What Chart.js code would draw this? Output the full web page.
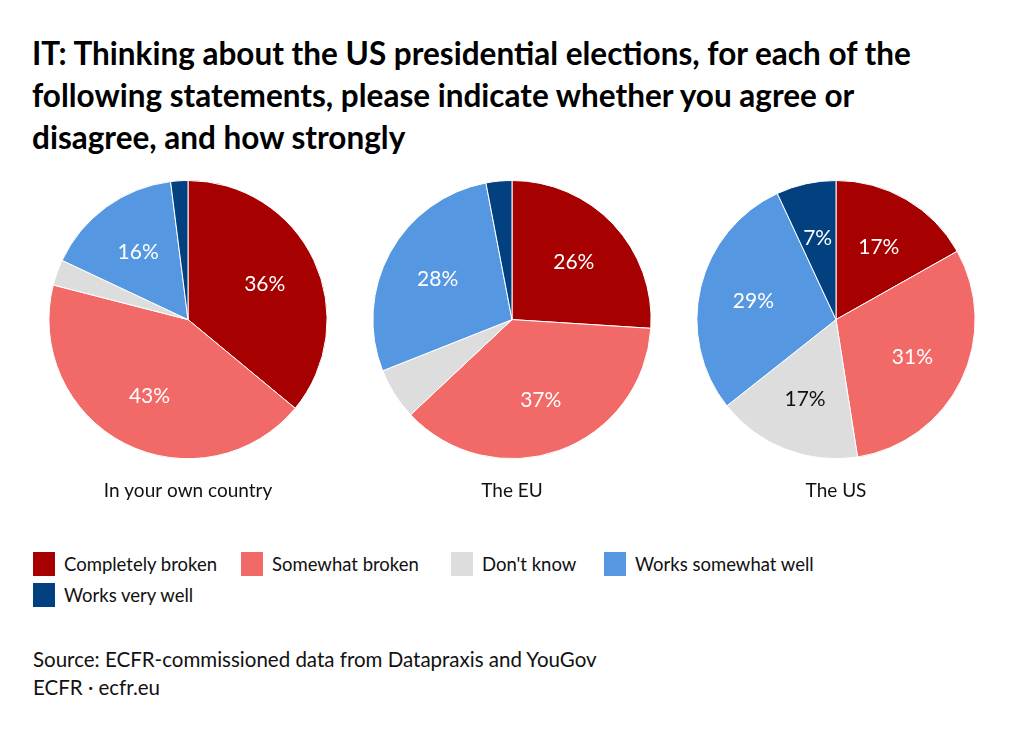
<!DOCTYPE html>
<html>
<head>
<meta charset="utf-8">
<script src="https://cdn.jsdelivr.net/npm/chart.js@4.4.1/dist/chart.umd.min.js"></script>
<style>
  body { margin: 0; background: #fff; font-family: Lato, sans-serif; color: #111; }
  #wrap { position: relative; width: 1024px; height: 731px; overflow: hidden; }
  #title { position: absolute; left: 32px; top: 32px; font-weight: 700; font-size: 31.5px; line-height: 42px; color: #000; }
  .pie { position: absolute; top: 180px; width: 326px; height: 322px; }
  #legend { position: absolute; left: 33px; top: 552px; width: 820px; font-size: 18.5px; }
  .item { position: absolute; display: flex; align-items: center; height: 24px; }
  .sw { width: 22px; height: 24px; margin-right: 9px; }
  #source { position: absolute; left: 33px; top: 645px; font-size: 20.5px; line-height: 28px; }
</style>
</head>
<body>
<div id="wrap">
  <div id="title">IT: Thinking about the US presidential elections, for each of the<br>following statements, please indicate whether you agree or<br>disagree, and how strongly</div>
  <div class="pie" style="left:25px"><canvas id="pie0"></canvas></div>
  <div class="pie" style="left:349px"><canvas id="pie1"></canvas></div>
  <div class="pie" style="left:673px"><canvas id="pie2"></canvas></div>
  <div id="legend"></div>
  <div id="source">Source: ECFR-commissioned data from Datapraxis and YouGov<br>ECFR · ecfr.eu</div>
</div>
<script>
// answer categories (legend order)
const categories = ["Completely broken", "Somewhat broken", "Don't know", "Works somewhat well", "Works very well"];
const colors = ["#a60000", "#f26a68", "#dddddd", "#5598e1", "#02407f"];
const labelColors = ["#fff", "#fff", "#111", "#fff", "#fff"];

// one pie per statement
const pieTitles = ["In your own country", "The EU", "The US"];
const ownCountry = [36, 43, 3, 16, 2];
const theEU = [26, 37, 6, 28, 3];
const theUS = [17, 31, 17, 29, 7];
const pieValues = [ownCountry, theEU, theUS];

// legend rows: x offsets of each entry
const legendPos = [[0, 0], [208, 0], [418, 0], [571, 0], [0, 31]];

const legend = document.getElementById('legend');
categories.forEach((c, i) => {
  const el = document.createElement('div');
  el.className = 'item';
  el.style.left = legendPos[i][0] + 'px';
  el.style.top = legendPos[i][1] + 'px';
  el.innerHTML = `<span class="sw" style="background:${colors[i]}"></span>${c}`;
  legend.appendChild(el);
});

// draws the percentage inside each slice big enough to hold it
const sliceLabels = {
  id: 'sliceLabels',
  afterDatasetsDraw(chart) {
    const ctx = chart.ctx;
    const data = chart.data.datasets[0].data;
    ctx.save();
    ctx.font = '21px Lato';
    ctx.textAlign = 'center';
    ctx.textBaseline = 'middle';
    chart.getDatasetMeta(0).data.forEach((arc, i) => {
      if (data[i] < 7) return;
      const p = arc.getProps(['x', 'y', 'startAngle', 'endAngle', 'outerRadius'], true);
      const mid = (p.startAngle + p.endAngle) / 2;
      const r = p.outerRadius * 0.61;
      ctx.fillStyle = labelColors[i];
      ctx.fillText(data[i] + '%', p.x + Math.cos(mid) * r, p.y + Math.sin(mid) * r + 1);
    });
    ctx.restore();
  }
};

pieValues.forEach((vals, k) => {
  new Chart(document.getElementById('pie' + k), {
    type: 'pie',
    data: {
      labels: categories,
      datasets: [{
        data: vals,
        backgroundColor: colors,
        borderColor: '#fff',
        borderWidth: 1
      }]
    },
    options: {
      responsive: true,
      maintainAspectRatio: false,
      animation: false,
      layout: { padding: 0 },
      plugins: {
        legend: { display: false },
        tooltip: { enabled: false },
        title: {
          display: true,
          position: 'bottom',
          text: pieTitles[k],
          color: '#111',
          font: { family: 'Lato', size: 19, weight: 'normal' },
          padding: { top: 20, bottom: 0 }
        }
      }
    },
    plugins: [sliceLabels]
  });
});
</script>
</body>
</html>
